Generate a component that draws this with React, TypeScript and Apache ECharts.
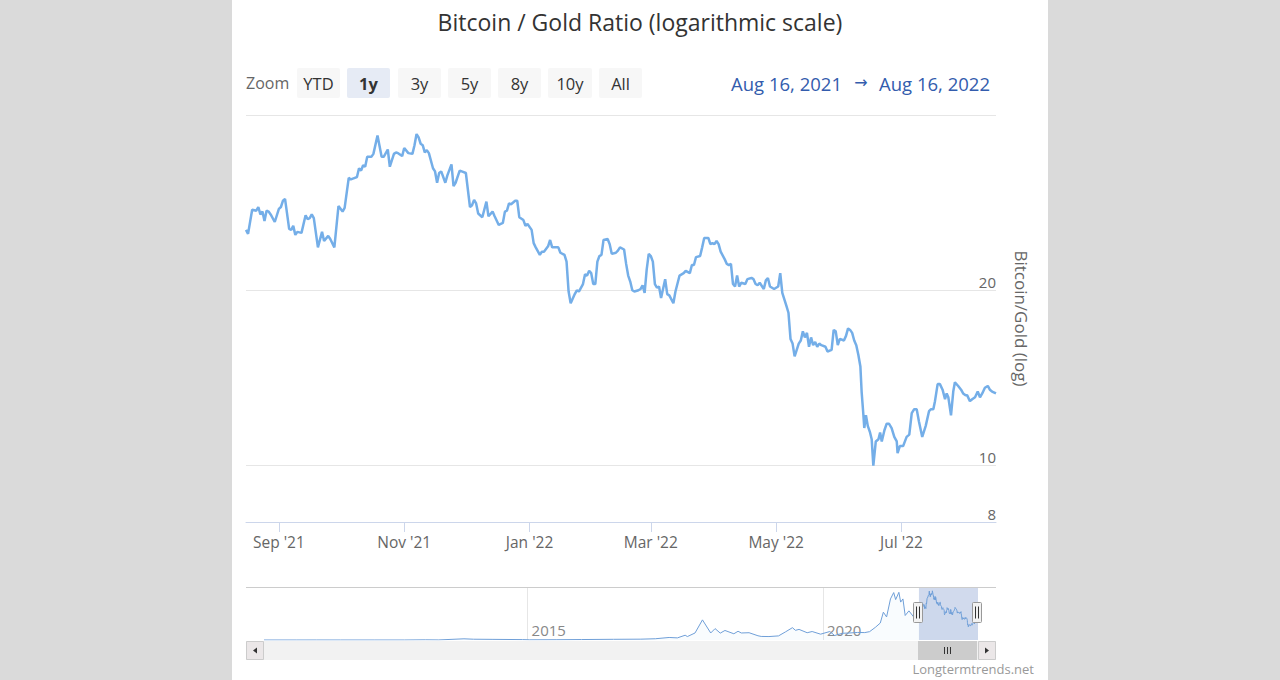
import React, { useEffect, useRef } from 'react';
import * as echarts from 'echarts';

// ---------- data ----------
const TITLE = 'Bitcoin / Gold Ratio (logarithmic scale)';
const RANGE_START = '2021-08-16';
const RANGE_END = '2022-08-16';
const NAV_START = '2010-07-17';

// days after Aug 16, 2021
const dayOffsets = [
  0, 1, 3, 5, 6, 7, 8, 9, 10, 11, 12, 14, 16, 17, 18, 19, 21, 22, 23, 24, 25, 27, 29, 30, 31, 32, 33, 35, 37, 38,
  40, 41, 43, 45, 47, 48, 50, 51, 53, 54, 55, 56, 57, 58, 59, 61, 62, 64, 66, 67, 69, 70, 72, 73, 74, 76, 77, 79, 81, 82,
  83, 84, 85, 86, 87, 88, 89, 91, 92, 93, 94, 95, 97, 98, 100, 101, 102, 104, 105, 107, 109, 110, 111, 112, 113, 115, 117, 118, 120, 121,
  123, 125, 126, 127, 128, 129, 131, 132, 133, 135, 136, 137, 139, 140, 141, 143, 144, 145, 147, 148, 149, 150, 152, 153, 155, 156, 157, 158, 160, 161,
  162, 164, 165, 166, 167, 168, 169, 170, 171, 172, 173, 174, 176, 177, 178, 180, 181, 182, 184, 185, 186, 187, 188, 189, 191, 192, 193, 194, 195, 196,
  197, 198, 199, 200, 201, 202, 204, 205, 206, 208, 209, 211, 213, 214, 216, 217, 218, 219, 221, 222, 223, 225, 226, 227, 228, 229, 230, 231, 233, 234,
  235, 236, 237, 238, 239, 240, 241, 243, 244, 246, 247, 248, 249, 250, 252, 253, 254, 255, 256, 257, 259, 260, 261, 262, 263, 264, 265, 266, 267, 269,
  270, 271, 272, 273, 274, 275, 276, 277, 278, 279, 280, 282, 283, 285, 286, 287, 288, 289, 291, 292, 293, 294, 295, 296, 297, 298, 299, 299.6, 300.4, 300.9,
  301.7, 302.6, 303.7, 304.5, 305.3, 306.5, 307.8, 308.6, 309.4, 310.7, 311.8, 312.9, 314.2, 315.5, 316.7, 317.1, 318.2, 319.8, 321.5, 322.8, 324, 325.2, 326.4, 327.5, 329.1, 330.8, 332.4, 333.4, 334.5, 335.3,
  336.6, 337.7, 339, 340.2, 341, 341.8, 343.1, 344.2, 345, 346.6, 348, 349, 350.2, 351, 352.3, 353.4, 354.8, 356.1, 357.2, 358.3, 359.6, 361, 362, 363.1, 365,
];
const ratioValues = [
  25.4, 25.0, 27.5, 27.4, 27.8, 27.0, 27.3, 26.3, 27.4, 27.3, 27.0, 26.2, 27.6, 27.8, 28.5, 28.7, 25.5, 25.4, 25.8, 24.9, 25.2, 25.1, 26.9, 26.5, 26.6, 27.0, 26.6, 23.7, 25.2, 24.3,
  24.8, 24.5, 23.7, 27.9, 27.3, 27.7, 31.2, 31.0, 31.2, 31.3, 32.4, 32.1, 32.8, 32.6, 33.9, 33.9, 34.3, 36.9, 33.9, 33.9, 34.9, 32.6, 34.3, 34.5, 34.4, 34.0, 35.1, 34.4, 34.3, 35.5,
  37.1, 36.6, 35.7, 35.5, 34.5, 34.8, 34.4, 32.4, 32.0, 30.6, 31.8, 32.0, 30.6, 31.5, 32.9, 30.2, 30.6, 32.1, 32.0, 31.8, 27.8, 28.0, 28.6, 28.2, 27.1, 26.7, 28.4, 26.8, 27.3, 26.8,
  25.9, 26.1, 27.3, 27.4, 28.2, 28.1, 28.5, 28.5, 26.7, 26.4, 25.8, 26.0, 25.4, 24.1, 23.7, 23.0, 23.3, 23.3, 23.8, 24.4, 23.7, 23.7, 23.7, 23.2, 23.0, 22.4, 19.9, 19.0, 19.7, 20.0,
  19.9, 20.5, 21.3, 21.2, 21.6, 21.4, 20.5, 20.5, 22.4, 22.9, 23.0, 24.4, 24.5, 24.0, 23.1, 23.2, 23.4, 23.7, 23.5, 22.2, 21.2, 20.7, 20.0, 19.9, 20.0, 20.1, 20.4, 19.8, 21.7, 23.1,
  22.9, 22.4, 20.5, 20.2, 20.3, 19.4, 20.9, 19.7, 19.6, 19.0, 19.9, 21.2, 21.4, 21.6, 21.4, 22.1, 22.1, 22.8, 22.9, 23.7, 24.6, 24.6, 24.0, 24.1, 24.0, 24.3, 24.0, 23.3, 22.6, 22.2,
  22.1, 22.2, 20.5, 20.3, 21.2, 20.3, 20.6, 20.5, 20.9, 21.0, 20.9, 20.5, 20.4, 20.6, 20.1, 20.8, 21.0, 20.3, 20.2, 20.1, 20.3, 21.4, 19.8, 19.3, 18.8, 18.3, 16.5, 16.2, 15.4, 16.2,
  16.4, 17.0, 16.6, 16.9, 16.0, 16.6, 16.1, 16.3, 16.0, 16.2, 16.1, 16.0, 15.7, 15.8, 17.1, 17.0, 16.1, 16.5, 16.4, 16.7, 17.2, 17.1, 16.9, 16.4, 16.1, 15.5, 14.8, 13.4, 12.3, 11.6,
  12.2, 11.7, 11.4, 11.1, 10.0, 11.0, 11.1, 11.4, 11.0, 11.5, 11.8, 11.8, 11.6, 11.2, 11.0, 10.5, 10.8, 10.8, 11.2, 11.3, 12.3, 12.5, 12.5, 11.9, 11.2, 11.7, 12.4, 12.5, 12.5, 12.9,
  13.8, 13.8, 13.5, 13.0, 13.3, 13.1, 12.2, 13.4, 13.9, 13.7, 13.5, 13.3, 13.2, 13.2, 12.9, 13.0, 13.1, 13.4, 13.1, 13.3, 13.6, 13.7, 13.5, 13.4, 13.3,
];

// full history shown in the navigator (before the selected range)
const navDates = [
  '2010-07-17', '2011-02-01', '2011-06-08', '2011-11-01', '2012-06-01', '2012-12-01', '2013-04-09', '2013-07-01',
  '2013-12-04', '2014-02-01', '2014-06-01', '2014-12-01', '2015-01-14', '2015-07-01', '2015-12-01', '2016-06-15',
  '2016-12-01', '2017-03-01', '2017-05-25', '2017-07-15', '2017-09-01', '2017-09-15', '2017-11-01', '2017-12-17',
  '2018-02-06', '2018-03-05', '2018-04-06', '2018-05-05', '2018-06-29', '2018-07-25', '2018-08-14', '2018-10-01',
  '2018-11-25', '2018-12-15', '2019-02-01', '2019-04-01', '2019-05-15', '2019-06-26', '2019-07-15', '2019-08-06',
  '2019-09-25', '2019-10-26', '2019-12-17', '2020-02-12', '2020-03-13', '2020-05-01', '2020-06-15', '2020-08-01',
  '2020-09-15', '2020-10-15', '2020-11-20', '2020-12-20', '2021-01-08', '2021-01-28', '2021-02-21', '2021-03-13',
  '2021-03-25', '2021-04-14', '2021-04-25', '2021-05-09', '2021-05-23', '2021-06-15', '2021-07-20', '2021-08-01',
  '2021-08-14',
];
const navValues = [
  0.0001, 0.0007, 0.019, 0.002, 0.0033, 0.0075, 0.15, 0.055,
  0.9, 0.6, 0.48, 0.3, 0.15, 0.22, 0.35, 0.53,
  0.63, 0.95, 1.9, 1.6, 3.6, 2.6, 5.3, 15.2,
  5.3, 8.6, 5.2, 7.2, 4.7, 6.6, 5.3, 5.5,
  3.2, 2.7, 2.6, 3.1, 6.2, 9.3, 7.3, 8.0,
  5.5, 6.4, 4.4, 6.4, 3.4, 5.1, 5.3, 5.7,
  5.6, 6.3, 9.6, 12.8, 21.0, 17.4, 31.0, 35.8,
  30.5, 36.0, 28.6, 31.0, 18.5, 22.0, 16.5, 21.8,
  25.0,
];

const xTickDates = ['2021-09-01', '2021-11-01', '2022-01-01', '2022-03-01', '2022-05-01', '2022-07-01'];
const yGridValues = [8, 10, 20, 40];
const yLabelValues = [8, 10, 20];
const navYearTicks = ['2015-01-01', '2020-01-01'];
const zoomButtons = ['YTD', '1y', '3y', '5y', '8y', '10y', 'All'];
const selectedButton = '1y';
const rangeFromText = 'Aug 16, 2021';
const rangeToText = 'Aug 16, 2022';
const creditText = 'Longtermtrends.net';
const yAxisName = 'Bitcoin/Gold (log)';

// ---------- helpers ----------
const MONTHS = ['Jan', 'Feb', 'Mar', 'Apr', 'May', 'Jun', 'Jul', 'Aug', 'Sep', 'Oct', 'Nov', 'Dec'];
const ts = (s: string) => {
  const [y, m, d] = s.split('-').map(Number);
  return new Date(y, m - 1, d).getTime();
};
const DAY = 86400000;
const FONT = '"Open Sans", "DejaVu Sans", sans-serif';

export default function App() {
  const ref = useRef<HTMLDivElement>(null);

  useEffect(() => {
    if (!ref.current) return;
    const chart = echarts.init(ref.current, undefined, { renderer: 'svg' });
    const t0 = ts(RANGE_START);
    const t1 = ts(RANGE_END);
    const mainData = dayOffsets.map((d, i) => [t0 + d * DAY, ratioValues[i]]);
    const navData = navDates.map((d, i) => [ts(d), navValues[i]]).concat(mainData);
    const xTicks = xTickDates.map(ts);
    const navTicks = navYearTicks.map(ts);

    const btnX = [297, 347, 398, 448, 498, 548, 599];
    const btnW = [43, 43, 43, 43, 43, 44, 43];
    const txt = (text: string, x: number, y: number, size: number, fill: string, align = 'left', weight = 'normal') => ({
      type: 'text',
      x,
      y,
      silent: true,
      z: 50,
      style: {
        text,
        fill,
        fontSize: size,
        fontFamily: FONT,
        fontWeight: weight,
        align,
        textAlign: align,
        verticalAlign: 'middle',
        textVerticalAlign: 'middle',
      },
    });

    const elements: any[] = [
      { type: 'rect', z: -100, silent: true, shape: { x: 232, y: 0, width: 816, height: 680 }, style: { fill: '#ffffff' } },
      txt('Zoom', 246, 83, 16, '#666666'),
    ];
    zoomButtons.forEach((b, i) => {
      const sel = b === selectedButton;
      elements.push({
        type: 'rect',
        z: 40,
        silent: true,
        shape: { x: btnX[i], y: 68, width: btnW[i], height: 30, r: 2 },
        style: { fill: sel ? '#e6ebf5' : '#f7f7f7' },
      });
      elements.push(txt(b, btnX[i] + btnW[i] / 2, 83, 16.5, '#333333', 'center', sel ? 'bold' : 'normal'));
    });
    elements.push(txt(rangeFromText, 731, 83, 18.5, '#335cad'));
    elements.push(txt('→', 861, 82, 16, '#335cad', 'center'));
    elements.push(txt(rangeToText, 990, 83, 18.5, '#335cad', 'right'));
    elements.push(txt(creditText, 1034, 669, 13, '#999999', 'right'));

    // navigator outline
    elements.push({ type: 'line', z: 30, silent: true, shape: { x1: 246, y1: 587.5, x2: 996, y2: 587.5 }, style: { stroke: '#cccccc', lineWidth: 1 } });
    // scrollbar
    elements.push({ type: 'rect', z: 30, silent: true, shape: { x: 246, y: 641, width: 750, height: 19 }, style: { fill: '#f2f2f2' } });
    elements.push({ type: 'rect', z: 31, silent: true, shape: { x: 246.5, y: 641.5, width: 17, height: 18 }, style: { fill: '#ebe7e8', stroke: '#cccccc', lineWidth: 1 } });
    elements.push({ type: 'rect', z: 31, silent: true, shape: { x: 978.5, y: 641.5, width: 17, height: 18 }, style: { fill: '#ebe7e8', stroke: '#cccccc', lineWidth: 1 } });
    elements.push({ type: 'polygon', z: 32, silent: true, shape: { points: [[253, 650.5], [257, 647.5], [257, 653.5]] }, style: { fill: '#333333' } });
    elements.push({ type: 'polygon', z: 32, silent: true, shape: { points: [[989, 650.5], [985, 647.5], [985, 653.5]] }, style: { fill: '#333333' } });
    elements.push({ type: 'rect', z: 31, silent: true, shape: { x: 918, y: 641, width: 59, height: 19 }, style: { fill: '#cccccc' } });
    [944.5, 947.5, 950.5].forEach((x) => {
      elements.push({ type: 'line', z: 32, silent: true, shape: { x1: x, y1: 647, x2: x, y2: 654 }, style: { stroke: '#333333', lineWidth: 1 } });
    });
    // navigator handles
    [918, 977].forEach((cx) => {
      elements.push({ type: 'rect', z: 60, silent: true, shape: { x: cx - 4.5, y: 602.5, width: 9, height: 20, r: 1 }, style: { fill: '#f2f2f2', stroke: '#999999', lineWidth: 1 } });
      [cx - 1.5, cx + 1.5].forEach((lx) => {
        elements.push({ type: 'line', z: 61, silent: true, shape: { x1: lx, y1: 606.5, x2: lx, y2: 618.5 }, style: { stroke: '#333333', lineWidth: 1 } });
      });
    });

    const option: any = {
      animation: false,
      backgroundColor: '#dadada',
      textStyle: { fontFamily: FONT },
      title: {
        text: TITLE,
        left: 'center',
        top: 5,
        textStyle: { fontSize: 23, fontWeight: 'normal', color: '#333333', fontFamily: FONT },
      },
      grid: [
        { left: 246, top: 115, width: 750, height: 407, containLabel: false, outerBoundsMode: 'none' },
        { left: 264, top: 587, width: 714, height: 53, containLabel: false, outerBoundsMode: 'none' },
      ],
      xAxis: [
        {
          type: 'value',
          gridIndex: 0,
          min: t0,
          max: t1,
          scale: true,
          axisLine: { show: true, lineStyle: { color: '#ccd6eb', width: 1 } },
          axisTick: { show: true, customValues: xTicks, length: 10, lineStyle: { color: '#ccd6eb', width: 1 } },
          axisLabel: {
            customValues: xTicks,
            color: '#666666',
            fontSize: 15.5,
            fontFamily: FONT,
            margin: 12,
            hideOverlap: false,
            formatter: (v: number) => {
              const d = new Date(v);
              return `${MONTHS[d.getMonth()]} '${String(d.getFullYear()).slice(2)}`;
            },
          },
          splitLine: { show: false },
        },
        {
          type: 'value',
          gridIndex: 1,
          min: ts(NAV_START),
          max: t1,
          scale: true,
          axisLine: { show: false },
          axisTick: { show: false, customValues: navTicks },
          axisLabel: {
            customValues: navTicks,
            inside: true,
            margin: 3,
            align: 'left',
            padding: [0, 0, 0, 4],
            color: '#888888',
            fontSize: 15,
            fontFamily: FONT,
            formatter: (v: number) => String(new Date(v).getFullYear()),
          },
          splitLine: { show: true, lineStyle: { color: '#e6e6e6', width: 1 } },
        },
      ],
      yAxis: [
        {
          type: 'log',
          logBase: 10,
          gridIndex: 0,
          min: 8,
          max: 40,
          position: 'right',
          name: yAxisName,
          nameLocation: 'middle',
          nameRotate: -90,
          nameGap: 17,
          nameTextStyle: { color: '#666666', fontSize: 17, fontFamily: FONT },
          axisLine: { show: false },
          axisTick: { show: false, customValues: yGridValues },
          axisLabel: {
            customValues: yLabelValues,
            inside: true,
            margin: 0,
            verticalAlign: 'bottom',
            padding: [0, 0, 1, 0],
            color: '#666666',
            fontSize: 15,
            fontFamily: FONT,
          },
          splitLine: { show: true, lineStyle: { color: '#e6e6e6', width: 1 } },
        },
        { type: 'value', gridIndex: 1, min: 0, max: 40, show: false, splitLine: { show: false } },
      ],
      series: [
        {
          type: 'line',
          xAxisIndex: 0,
          yAxisIndex: 0,
          data: mainData,
          symbol: 'none',
          showSymbol: false,
          silent: true,
          lineStyle: { color: '#74aee8', width: 2.5 },
        },
        {
          type: 'line',
          xAxisIndex: 1,
          yAxisIndex: 1,
          data: navData,
          symbol: 'none',
          showSymbol: false,
          silent: true,
          lineStyle: { color: '#6f9fd8', width: 1 },
          areaStyle: { color: 'rgba(124,181,236,0.07)' },
          markArea: {
            silent: true,
            itemStyle: { color: 'rgba(102,133,194,0.3)' },
            data: [[{ xAxis: t0 }, { xAxis: t1 }]],
          },
        },
      ],
      graphic: { elements },
    };
    chart.setOption(option);
    return () => chart.dispose();
  }, []);

  return <div ref={ref} style={{ position: 'fixed', left: 0, top: 0, width: 1280, height: 680 }} />;
}
